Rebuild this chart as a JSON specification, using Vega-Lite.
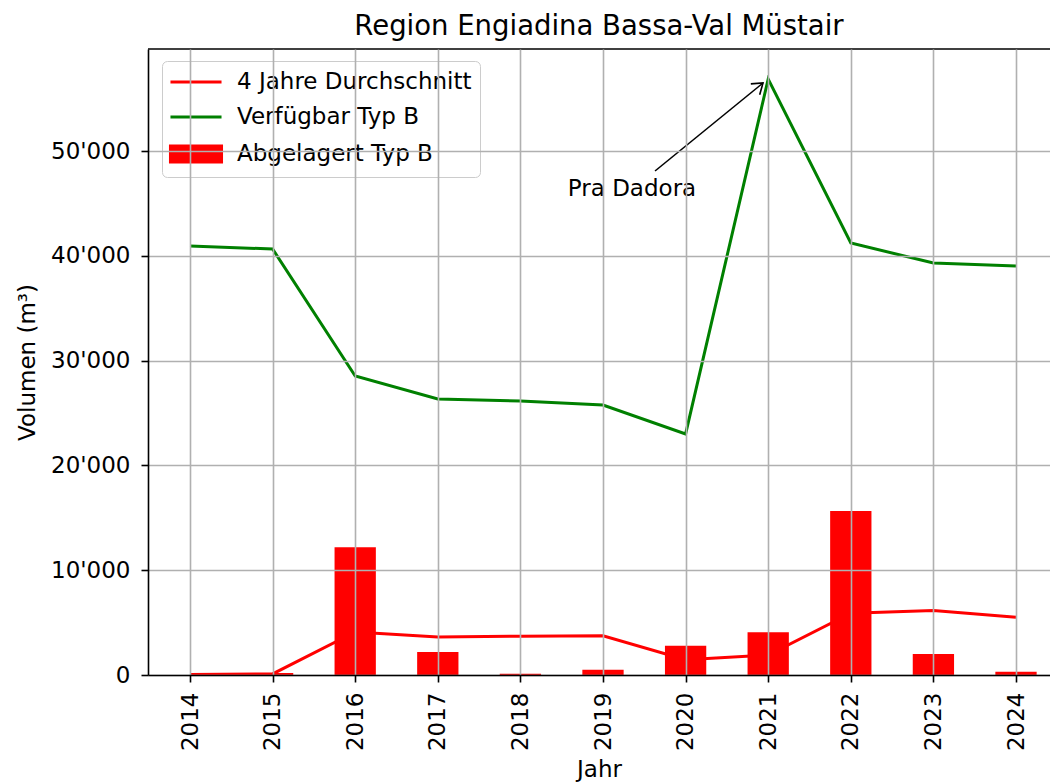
{
  "$schema": "https://vega.github.io/schema/vega-lite/v6.json",
  "width": 902,
  "height": 626,
  "autosize": {"type": "none"},
  "padding": {"left": 148, "top": 49, "right": 0, "bottom": 109},
  "title": {"text": "Region Engiadina Bassa-Val Müstair", "fontSize": 27.5, "font": "DejaVu Sans", "fontWeight": "normal", "color": "black", "anchor": "middle", "offset": 8},
  "config": {
    "font": "DejaVu Sans",
    "view": {"stroke": null},
    "axis": {
      "domainColor": "black", "domainWidth": 1.6, "tickColor": "black", "tickSize": 7, "tickWidth": 1.6,
      "gridColor": "#b0b0b0", "gridWidth": 1.6, "gridOpacity": 1,
      "labelFontSize": 23, "titleFontSize": 23, "labelColor": "black", "titleColor": "black",
      "titleFontWeight": "normal", "labelFont": "DejaVu Sans", "titleFont": "DejaVu Sans"
    },
    "legend": {"labelFont": "DejaVu Sans"}
  },
  "datasets": {
    "main": [
      {"year": 2014, "abgelagert": 0, "avg4": 50, "verfuegbar": 40930},
      {"year": 2015, "abgelagert": 200, "avg4": 100, "verfuegbar": 40650},
      {"year": 2016, "abgelagert": 12190, "avg4": 4100, "verfuegbar": 28530},
      {"year": 2017, "abgelagert": 2200, "avg4": 3630, "verfuegbar": 26340},
      {"year": 2018, "abgelagert": 130, "avg4": 3700, "verfuegbar": 26150},
      {"year": 2019, "abgelagert": 500, "avg4": 3750, "verfuegbar": 25760},
      {"year": 2020, "abgelagert": 2800, "avg4": 1450, "verfuegbar": 23000},
      {"year": 2021, "abgelagert": 4070, "avg4": 1900, "verfuegbar": 56870},
      {"year": 2022, "abgelagert": 15650, "avg4": 5900, "verfuegbar": 41220},
      {"year": 2023, "abgelagert": 2000, "avg4": 6150, "verfuegbar": 39310},
      {"year": 2024, "abgelagert": 300, "avg4": 5500, "verfuegbar": 39030}
    ],
    "annot": [
      {"tyear": 2019.351, "tvalue": 46374, "year": 2019.63, "value": 48092, "year2": 2020.937, "value2": 56489, "label": "Pra Dadora"}
    ],
    "frame": [{"top": 59733}]
  },
  "layer": [
    {
      "data": {"name": "main"},
      "mark": {"type": "line", "strokeWidth": 3},
      "encoding": {
        "x": {"field": "year", "type": "quantitative",
          "scale": {"domain": [2013.4915, 2024.4116], "nice": false, "zero": false, "padding": 0},
          "axis": {"values": [2014, 2015, 2016, 2017, 2018, 2019, 2020, 2021, 2022, 2023, 2024], "format": "d", "labelAngle": -90, "labelPadding": 10, "title": "Jahr", "titlePadding": 8, "zindex": 1}},
        "y": {"field": "avg4", "type": "quantitative",
          "scale": {"domain": [0, 59733], "nice": false, "padding": 0},
          "axis": {"values": [0, 10000, 20000, 30000, 40000, 50000], "labelExpr": "replace(format(datum.value, ','), ',', \"'\")", "labelPadding": 11, "title": "Volumen (m³)", "titlePadding": 11, "zindex": 1}},
        "color": {"datum": "4 Jahre Durchschnitt", "type": "nominal",
          "scale": {"domain": ["4 Jahre Durchschnitt", "Verfügbar Typ B", "Abgelagert Typ B"], "range": ["#ff0000", "#008000", "#ff0000"]},
          "legend": {
            "orient": "none", "legendX": 14, "legendY": 12, "title": null,
            "labelFontSize": 23, "labelColor": "black", "labelLimit": 500, "symbolSize": 529, "rowPadding": 10, "padding": 8,
            "strokeColor": "#cccccc", "fillColor": "rgba(255,255,255,0.8)", "cornerRadius": 5, "labelOffset": 41,
            "encode": {"symbols": {"update": {
              "shape": {"signal": "datum.value === 'Abgelagert Typ B' ? 'M-1.09,-0.7H3.35V0.7H-1.09Z' : 'M-1.09,0H3.35'"},
              "fill": {"signal": "datum.value === 'Abgelagert Typ B' ? '#ff0000' : 'transparent'"},
              "stroke": {"signal": "datum.value === 'Verfügbar Typ B' ? '#008000' : (datum.value === '4 Jahre Durchschnitt' ? '#ff0000' : 'transparent')"},
              "strokeWidth": {"value": 3},
              "opacity": {"value": 1}
            }}}
          }}
      }
    },
    {
      "data": {"name": "main"},
      "mark": {"type": "line", "strokeWidth": 3},
      "encoding": {
        "x": {"field": "year", "type": "quantitative"},
        "y": {"field": "verfuegbar", "type": "quantitative"},
        "color": {"datum": "Verfügbar Typ B", "type": "nominal"}
      }
    },
    {
      "data": {"name": "main"},
      "mark": {"type": "bar", "size": 41.3},
      "encoding": {
        "x": {"field": "year", "type": "quantitative"},
        "y": {"field": "abgelagert", "type": "quantitative"},
        "color": {"datum": "Abgelagert Typ B", "type": "nominal"}
      }
    },
    {
      "data": {"name": "frame"},
      "mark": {"type": "rule", "color": "black", "strokeWidth": 1.6},
      "encoding": {"y": {"field": "top", "type": "quantitative"}}
    },
    {
      "data": {"name": "annot"},
      "mark": {"type": "rule", "color": "black", "strokeWidth": 1.6},
      "encoding": {
        "x": {"field": "year", "type": "quantitative"},
        "y": {"field": "value", "type": "quantitative"},
        "x2": {"field": "year2"},
        "y2": {"field": "value2"}
      }
    },
    {
      "data": {"name": "annot"},
      "mark": {"type": "point", "shape": "M-1,-0.7L0,0L-1,0.7", "filled": false, "stroke": "black", "strokeWidth": 1.6, "size": 400, "angle": -39.2, "opacity": 1},
      "encoding": {
        "x": {"field": "year2", "type": "quantitative"},
        "y": {"field": "value2", "type": "quantitative"}
      }
    },
    {
      "data": {"name": "annot"},
      "mark": {"type": "text", "fontSize": 23, "align": "center", "baseline": "middle", "color": "black", "font": "DejaVu Sans"},
      "encoding": {
        "x": {"field": "tyear", "type": "quantitative"},
        "y": {"field": "tvalue", "type": "quantitative"},
        "text": {"field": "label"}
      }
    }
  ]
}
